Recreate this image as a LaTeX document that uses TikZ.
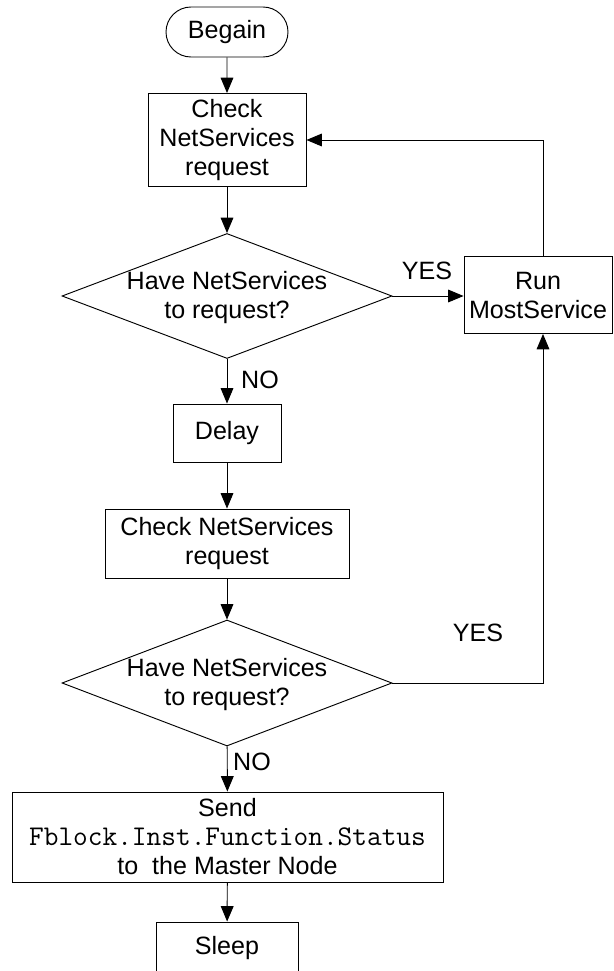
\documentclass[tikz,border=0pt]{standalone}
\usepackage{fontspec}
\setmainfont{Liberation Sans}
\usetikzlibrary{arrows.meta,shapes.geometric,shapes.misc}
\begin{document}
\begin{tikzpicture}[x=0.75pt,y=-0.75pt,
  every node/.style={font=\fontsize{18.8}{21.75}\selectfont},
  box/.style={draw,rectangle,inner sep=0pt,align=center},
  term/.style={draw,rounded rectangle,inner sep=0pt},
  dia/.style={draw,diamond,inner sep=0pt},
  txt/.style={inner sep=0pt,align=center},
  arr/.style={-{Triangle[length=11.5pt,width=9.5pt]}},
  line width=0.7pt]
\clip (0,0) rectangle (614,971);
\fill[white] (0,0) rectangle (614,971);

\node[term,minimum width=91.5pt,minimum height=37.5pt] (begin) at (227,32) {Begain};
\node[box,minimum width=118.5pt,minimum height=69.75pt] (chk1) at (227,140) {Check\\NetServices\\request};
\node[dia,minimum width=247.5pt,minimum height=93.75pt] (d1) at (227,296) {};
\node[txt] (d1t) at (227,298) {Have NetServices\\to request?};
\node[box,minimum width=111pt,minimum height=57.75pt] (run) at (538,295) {Run\\MostService};
\node[box,minimum width=81pt,minimum height=43.5pt] (delay) at (227,433) {Delay};
\node[box,minimum width=183pt,minimum height=51.75pt] (chk2) at (227,543.5) {Check NetServices\\request};
\node[dia,minimum width=247.5pt,minimum height=94.5pt] (d2) at (227,683) {};
\node[txt] (d2t) at (227,685) {Have NetServices\\to request?};
\node[box,minimum width=323.25pt,minimum height=67.5pt] (send) at (227.5,837) {Send\\{\ttfamily\fontsize{21.4}{22}\selectfont Fblock.Inst.Function.Status}\\to\ \ the Master Node};
\node[box,minimum width=106.5pt,minimum height=39pt] (sleep) at (227,948) {Sleep};

\node[txt] (yes1) at (427,271) {YES};
\node[txt] (yes2) at (478,633) {YES};
\node[txt] (no1) at (260,380) {NO};
\node[txt] (no2) at (252,762) {NO};

\coordinate (runtop) at ([xshift=3.75pt]run.north);
\coordinate (runbot) at ([xshift=3.75pt]run.south);

\draw[arr] (begin) -- (chk1);
\draw[arr] (chk1) -- (d1);
\draw[arr] (d1.east) -- (d1.east -| run.west);
\draw[arr] (runtop) |- (chk1.east);
\draw[arr] (d1) -- (delay);
\draw[arr] (delay) -- (chk2);
\draw[arr] (chk2) -- (d2);
\draw[arr] (d2.east) -| (runbot);
\draw[arr] (d2) -- (send);
\draw[arr] (send) -- (sleep);
\end{tikzpicture}
\end{document}
